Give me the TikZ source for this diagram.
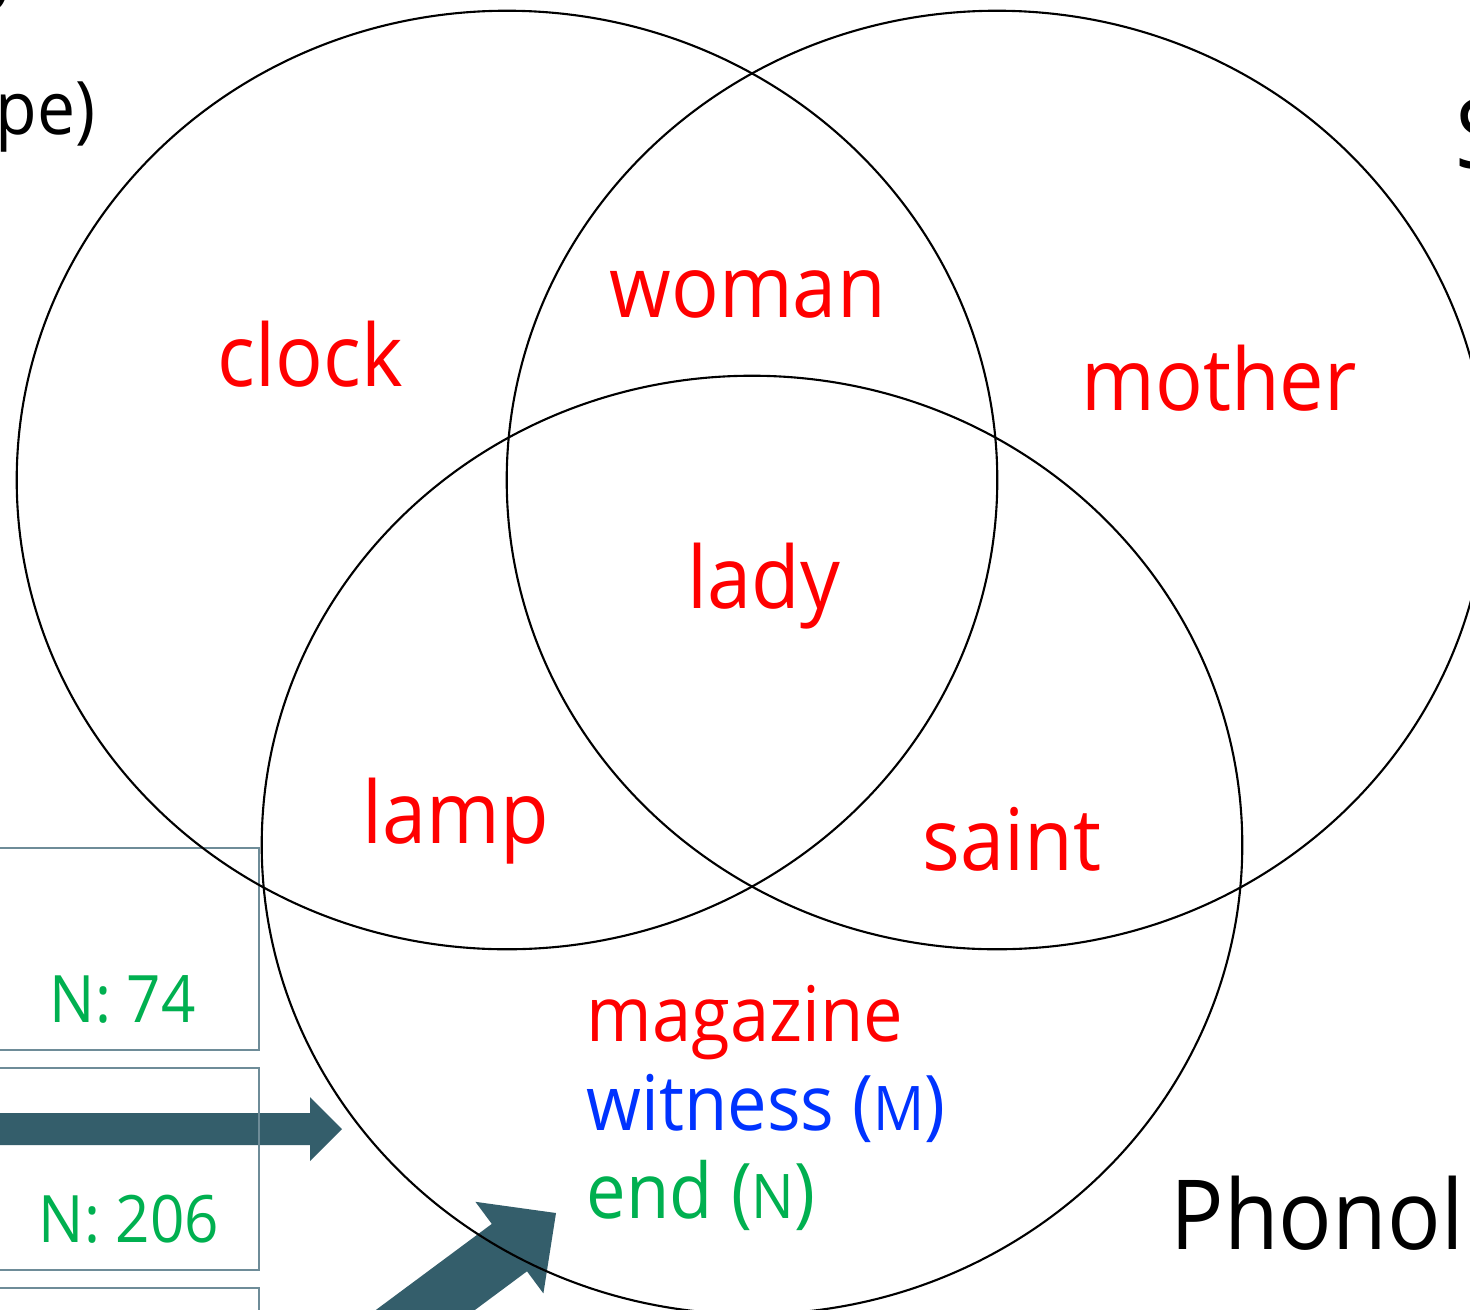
\documentclass[tikz,border=0pt]{standalone}
\usepackage{fontspec}
\setmainfont{Open Sans}[FakeStretch=0.92]
\usetikzlibrary{shapes.geometric}
\definecolor{wred}{RGB}{255,0,0}
\definecolor{wblue}{RGB}{0,51,255}
\definecolor{wgreen}{RGB}{0,176,80}
\definecolor{arrowc}{RGB}{52,94,107}
\definecolor{boxc}{RGB}{110,140,152}
\newcommand\mysc[1]{{\fontsize{17.5}{20}\selectfont #1}}
\begin{document}
\begin{tikzpicture}[x=0.01cm,y=-0.01cm,
  venn/.style={draw=black, line width=0.6pt, ellipse, minimum width=9.8cm, minimum height=9.38cm, inner sep=0pt, outer sep=0pt},
  word/.style={anchor=base west, inner sep=0pt, text=wred, font=\fontsize{24.5}{28}\selectfont},
  smallword/.style={anchor=base west, inner sep=0pt, font=\fontsize{21.8}{24}\selectfont},
  count/.style={anchor=base west, inner sep=0pt, text=wgreen, font=\fontsize{18.6}{22}\selectfont},
  titletext/.style={anchor=base west, inner sep=0pt, text=black, font=\fontsize{27.5}{32}\selectfont},
  panel/.style={draw=boxc, line width=0.6pt},
  blockarrow/.style={fill=arrowc, draw=none}]
\useasboundingbox (0,0) rectangle (1470,1309);
\fill[white] (0,0) rectangle (1470,1309);
% arrows
\coordinate (h1) at (-20,1113);
\coordinate (h2) at (310,1113);
\coordinate (h3) at (310,1097);
\coordinate (htip) at (342,1129);
\coordinate (h5) at (310,1161);
\coordinate (h6) at (310,1145);
\coordinate (h7) at (-20,1145);
\fill[blockarrow] (h1) -- (h2) -- (h3) -- (htip) -- (h5) -- (h6) -- (h7) -- cycle;
\coordinate (dtip) at (556,1213);
\coordinate (dw1) at (475.4,1201.8);
\coordinate (ds1) at (491.8,1223.9);
\coordinate (dt1) at (250.9,1402.7);
\coordinate (dt2) at (286.1,1450.1);
\coordinate (ds2) at (527,1271.3);
\coordinate (dw2) at (543.4,1293.4);
\fill[blockarrow] (dtip) -- (dw1) -- (ds1) -- (dt1) -- (dt2) -- (ds2) -- (dw2) -- cycle;
% panels
\draw[panel] (-20,848) rectangle (259,1050);
\draw[panel] (-20,1068) rectangle (259,1270);
\draw[panel] (-20,1288) rectangle (259,1340);
\node[count] (n74) at (49,1022) {N: 74};
\node[count] (n206) at (38,1242) {N: 206};
% venn
\node[venn] (cleft) at (507,480) {};
\node[venn] (cright) at (997,480) {};
\node[venn] (cbottom) at (752,845) {};
% words
\node[word] (clock) at (217,386) {clock};
\node[word] (woman) at (609,317) {woman};
\node[word] (mother) at (1081,410) {mother};
\node[word] (lady) at (687,608) {lady};
\node[word] (lamp) at (362,843) {lamp};
\node[word] (saint) at (922,870) {saint};
\node[smallword, text=wred] (magazine) at (586,1041) {magazine};
\node[smallword, text=wblue] (witness) at (586,1130) {witness (\mysc{M})};
\node[smallword, text=wgreen] (endw) at (586,1218) {end (\mysc{N})};
% titles
\node[titletext] (stitle) at (1455,168) {S};
\node[titletext] (phon) at (1170,1249) {Phonol};
\node[anchor=base west, inner sep=0pt, font=\fontsize{21}{24}\selectfont] (pe) at (-5,134) {pe)};
\node[anchor=base east, inner sep=0pt, font=\fontsize{21}{24}\selectfont] (ytail) at (22,-8) {y};
\end{tikzpicture}
\end{document}
